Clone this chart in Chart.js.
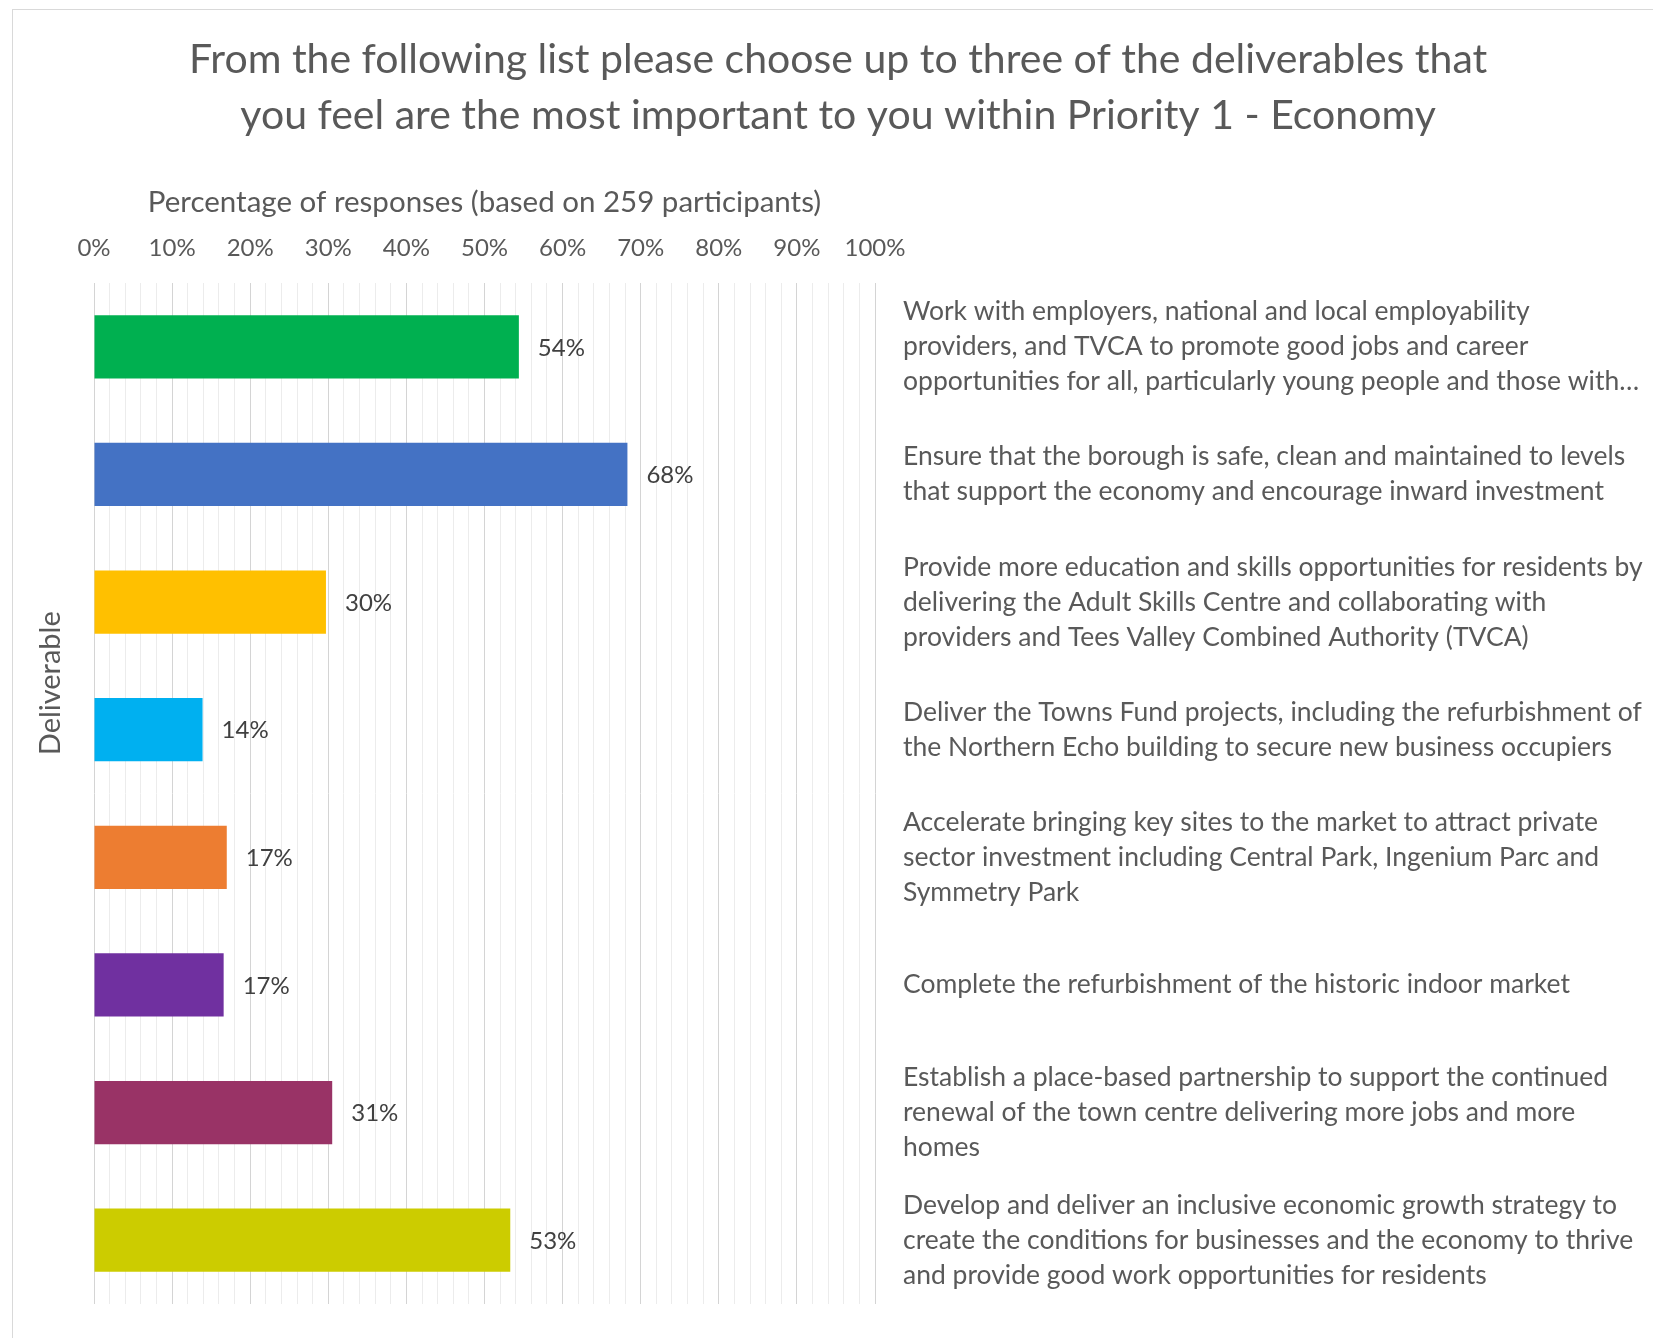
<!DOCTYPE html>
<html><head><meta charset="utf-8">
<script src="https://cdn.jsdelivr.net/npm/chart.js@4.4.1/dist/chart.umd.min.js"></script>
<style>
html,body{margin:0;padding:0;background:#fff;overflow:hidden;width:1653px;height:1338px}
#frame{position:absolute;left:12px;top:9px;width:1700px;height:1400px;border-left:1px solid #d9d9d9;border-top:1px solid #d9d9d9}
#wrap{position:absolute;left:0;top:0;width:1653px;height:1338px}
</style></head><body>
<div id="frame"></div>
<div id="wrap"><canvas id="c"></canvas></div>
<script>
const titleLines = [
  "From the following list please choose up to three of the deliverables that",
  "you feel are the most important to you within Priority 1 - Economy"
];
const xAxisTitle = "Percentage of responses (based on 259 participants)";
const yAxisTitle = "Deliverable";
const categories = [
  ["Work with employers, national and local employability", "providers, and TVCA to promote good jobs and career", "opportunities for all, particularly young people and those with…"],
  ["Ensure that the borough is safe, clean and maintained to levels", "that support the economy and encourage inward investment"],
  ["Provide more education and skills opportunities for residents by", "delivering the Adult Skills Centre and collaborating with", "providers and Tees Valley Combined Authority (TVCA)"],
  ["Deliver the Towns Fund projects, including the refurbishment of", "the Northern Echo building to secure new business occupiers"],
  ["Accelerate bringing key sites to the market to attract private", "sector investment including Central Park, Ingenium Parc and", "Symmetry Park"],
  ["Complete the refurbishment of the historic indoor market"],
  ["Establish a place-based partnership to support the continued", "renewal of the town centre delivering more jobs and more", "homes"],
  ["Develop and deliver an inclusive economic growth strategy to", "create the conditions for businesses and the economy to thrive", "and provide good work opportunities for residents"]
];
const values = [54.4, 68.3, 29.7, 13.9, 17.0, 16.6, 30.5, 53.3];
const valueLabels = ["54%", "68%", "30%", "14%", "17%", "17%", "31%", "53%"];
const barColors = ["#00B050", "#4472C4", "#FFC000", "#00B0F0", "#ED7D31", "#7030A0", "#993366", "#CCCC00"];
const xTickLabels = ["0%", "10%", "20%", "30%", "40%", "50%", "60%", "70%", "80%", "90%", "100%"];

const FONT = "Lato";
const TEXT = "#595959";

const valueLabelPlugin = {
  id: "valueLabels",
  afterDatasetsDraw(chart) {
    const ctx = chart.ctx;
    const meta = chart.getDatasetMeta(0);
    ctx.save();
    ctx.font = "24px " + FONT;
    ctx.fillStyle = "#404040";
    ctx.textAlign = "left";
    ctx.textBaseline = "middle";
    meta.data.forEach((bar, i) => {
      ctx.fillText(valueLabels[i], bar.x + 19, bar.y + 1);
    });
    ctx.restore();
  }
};

const textPlugin = {
  id: "texts",
  afterDraw(chart) {
    const ctx = chart.ctx;
    const a = chart.chartArea;
    ctx.save();
    ctx.font = "41px " + FONT;
    ctx.fillStyle = TEXT;
    ctx.textAlign = "center";
    ctx.textBaseline = "middle";
    const cx = chart.width * 0.507;
    titleLines.forEach((t, i) => ctx.fillText(t, cx, 60 + i * 56));
    ctx.translate(a.left - 43, a.top + (a.bottom - a.top) * 0.392);
    ctx.rotate(-Math.PI / 2);
    ctx.font = "29px " + FONT;
    ctx.fillText(yAxisTitle, 0, 0);
    ctx.restore();
  }
};

function draw() {
  new Chart(document.getElementById("c"), {
    type: "bar",
    data: {
      labels: categories,
      datasets: [{
        data: values,
        backgroundColor: barColors,
        borderWidth: 0,
        barPercentage: 0.495,
        categoryPercentage: 1
      }]
    },
    options: {
      indexAxis: "y",
      responsive: true,
      maintainAspectRatio: false,
      animation: false,
      layout: { padding: { left: 94, right: 0, top: 144, bottom: 34 } },
      plugins: {
        legend: { display: false },
        tooltip: { enabled: false },
        title: { display: false }
      },
      scales: {
        x: {
          position: "top",
          min: 0,
          max: 100,
          afterFit(s) { s.height = 139; s.paddingLeft = 0; s.paddingRight = 0; },
          border: { display: false },
          grid: {
            drawTicks: false,
            color: (c) => (c.tick && c.tick.value % 10 === 0) ? "#d4d4d4" : "#ececec",
            lineWidth: 1
          },
          ticks: {
            stepSize: 2,
            autoSkip: false,
            maxRotation: 0,
            padding: 20,
            color: TEXT,
            font: { family: FONT, size: 24 },
            callback: (v) => (v % 10 === 0 ? xTickLabels[v / 10] : "")
          },
          title: {
            display: true,
            text: xAxisTitle,
            color: TEXT,
            font: { family: FONT, size: 29.5 },
            padding: { top: 41, bottom: 0 }
          }
        },
        y: {
          position: "right",
          afterFit(s) { s.width = 778; s.paddingTop = 0; s.paddingBottom = 0; },
          border: { display: false },
          grid: { display: false, drawTicks: false },
          ticks: {
            autoSkip: false,
            padding: 28,
            crossAlign: "near",
            color: TEXT,
            font: { family: FONT, size: 26.5, lineHeight: 1.32 }
          }
        }
      }
    },
    plugins: [valueLabelPlugin, textPlugin]
  });
}
if (document.fonts && document.fonts.load) {
  Promise.all([document.fonts.load("22px Lato")]).then(draw, draw);
} else { draw(); }
</script>
</body></html>
